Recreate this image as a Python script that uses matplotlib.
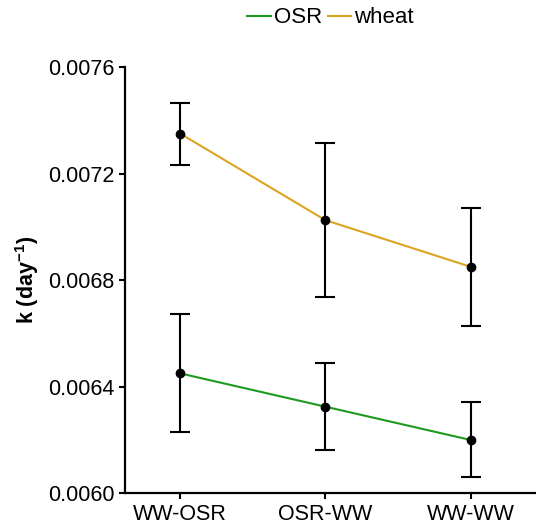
import numpy as np
import matplotlib
matplotlib.use('Agg')
import matplotlib.pyplot as plt

plt.rcParams['font.family'] = ['Liberation Sans', 'DejaVu Sans']
plt.rcParams['mathtext.fontset'] = 'custom'
plt.rcParams['mathtext.rm'] = 'Liberation Sans'
plt.rcParams['mathtext.bf'] = 'Liberation Sans:bold'

# data
rotations = ['WW-OSR', 'OSR-WW', 'WW-WW']
osr_k = [0.006450, 0.006325, 0.006200]
osr_lo = [0.006229, 0.006161, 0.006060]
osr_hi = [0.006672, 0.006490, 0.006342]
wheat_k = [0.007350, 0.007025, 0.006850]
wheat_lo = [0.007231, 0.006737, 0.006629]
wheat_hi = [0.007466, 0.007313, 0.007071]

colours = {'OSR': '#1E9B1E', 'wheat': '#DAA520'}

fig = plt.figure(figsize=(5.36, 5.27), dpi=100)
ax = fig.add_axes([0.233, 0.064, 0.767, 0.809])
x = np.arange(1, len(rotations) + 1)

series = [('OSR', osr_k, osr_lo, osr_hi), ('wheat', wheat_k, wheat_lo, wheat_hi)]
for name, k, lo, hi in series:
    k = np.array(k); lo = np.array(lo); hi = np.array(hi)
    ax.plot(x, k, color=colours[name], lw=1.5, label=name, zorder=2)
    ax.errorbar(x, k, yerr=[k - lo, hi - k], fmt='none', ecolor='black',
                elinewidth=1.5, capsize=7, capthick=1.5, zorder=3)
    ax.plot(x, k, 'o', color='black', ms=6, zorder=4)

ax.set_xlim(0.62, 3.45)
ax.set_ylim(0.0060, 0.0076)
ax.set_xticks(x)
ax.set_xticklabels(rotations)
ax.set_yticks([0.0060, 0.0064, 0.0068, 0.0072, 0.0076])
ax.set_yticklabels(['0.0060', '0.0064', '0.0068', '0.0072', '0.0076'])
ax.tick_params(labelsize=15.5, length=4, width=1.5, color='black', labelcolor='black')
for s in ['top', 'right']:
    ax.spines[s].set_visible(False)
for s in ['left', 'bottom']:
    ax.spines[s].set_linewidth(1.6)
ax.set_ylabel('k (day$^{\\mathbf{-1}}$)', fontsize=15.5, fontweight='bold', labelpad=5)

h = [plt.Line2D([], [], color=colours[n], lw=1.5) for n in ['OSR', 'wheat']]
fig.legend(h, ['OSR', 'wheat'], loc='center', bbox_to_anchor=(0.617, 0.966),
           ncol=2, frameon=False, fontsize=16, handlelength=1.05,
           handletextpad=0.15, columnspacing=0.25)

fig.savefig('out.png', dpi=100)
